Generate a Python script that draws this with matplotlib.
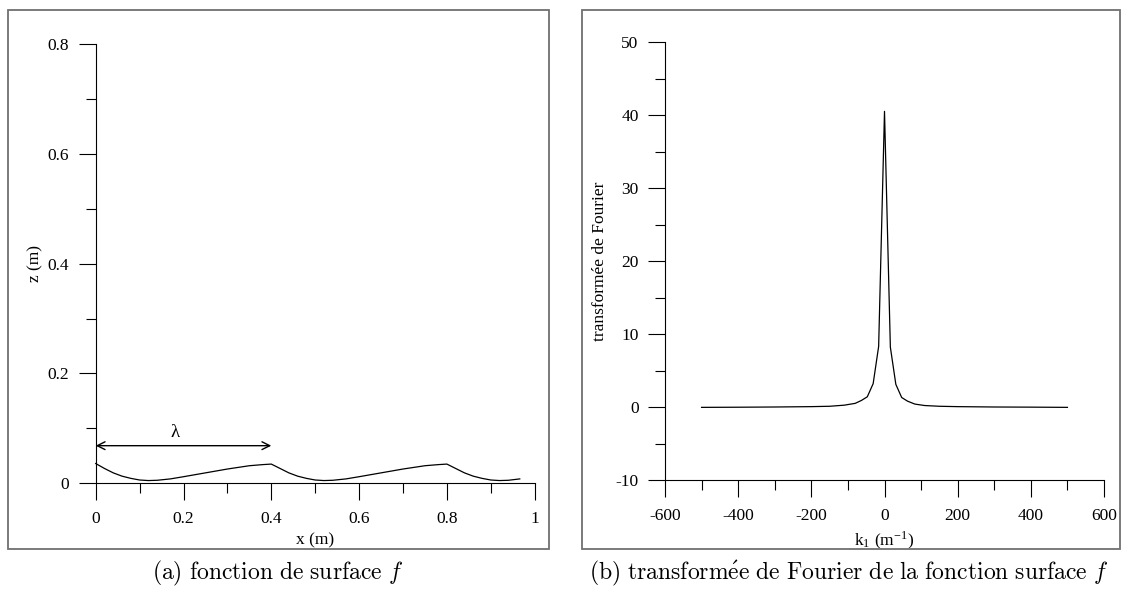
import matplotlib
matplotlib.use("Agg")
import matplotlib.pyplot as plt
from matplotlib.patches import Rectangle
from matplotlib.ticker import MultipleLocator

# ---- data -----------------------------------------------------------
x_surface = [0.00, 0.02, 0.04, 0.06, 0.08, 0.10, 0.12, 0.14, 0.17, 0.20,
             0.25, 0.30, 0.35, 0.38, 0.40,
             0.42, 0.44, 0.46, 0.48, 0.50, 0.52, 0.54, 0.57, 0.60,
             0.65, 0.70, 0.75, 0.78, 0.80,
             0.82, 0.84, 0.86, 0.88, 0.90, 0.92, 0.94, 0.966]
z_surface = [0.036, 0.027, 0.019, 0.013, 0.009, 0.006, 0.005, 0.0055, 0.008, 0.012,
             0.019, 0.026, 0.032, 0.034, 0.035,
             0.027, 0.019, 0.013, 0.009, 0.006, 0.005, 0.0055, 0.008, 0.012,
             0.019, 0.026, 0.032, 0.034, 0.035,
             0.027, 0.019, 0.013, 0.009, 0.006, 0.005, 0.0055, 0.008]

k1 = [-500, -400, -300, -200, -150, -110, -80, -63, -47, -31, -16, 0,
      16, 31, 47, 63, 83, 110, 150, 200, 300, 400, 500]
fourier = [-0.05, -0.03, 0.0, 0.05, 0.1, 0.25, 0.5, 0.9, 1.4, 3.2, 8.3, 40.5,
           8.2, 3.1, 1.3, 0.8, 0.4, 0.2, 0.1, 0.05, 0.0, -0.02, -0.05]

lambda_x = [0.0, 0.4]
lambda_z = 0.0685

x_ticks_a = [0, 0.2, 0.4, 0.6, 0.8, 1]
x_ticklabels_a = ["0", "0.2", "0.4", "0.6", "0.8", "1"]
y_ticks_a = [0, 0.2, 0.4, 0.6, 0.8]
y_ticklabels_a = ["0", "0.2", "0.4", "0.6", "0.8"]

x_ticks_b = [-600, -400, -200, 0, 200, 400, 600]
y_ticks_b = [-10, 0, 10, 20, 30, 40, 50]

caption_a = r"$\mathrm{(a)\ fonction\ de\ surface\ }f$"
caption_b = r"$\mathrm{(b)\ transform\acute{e}e\ de\ Fourier\ de\ la\ fonction\ surface\ }f$"

# ---- style ----------------------------------------------------------
plt.rcParams["font.family"] = ["Liberation Serif", "DejaVu Serif"]
plt.rcParams["mathtext.fontset"] = "stix"
plt.rcParams["axes.unicode_minus"] = False
FS = 12.5

W, H = 1123, 594
fig = plt.figure(figsize=(W / 100, H / 100), dpi=100)


def fx(px):
    return px / W


def fy(py):
    return 1 - py / H


# frames
for (x0, x1) in [(8, 549), (582, 1120)]:
    fig.add_artist(Rectangle((fx(x0), fy(549)), fx(x1) - fx(x0), fy(10) - fy(549),
                             transform=fig.transFigure, fill=False,
                             edgecolor="#707070", linewidth=1.3))

ax1 = fig.add_axes([fx(95.7), fy(483.3), fx(439), 439.3 / H])
ax2 = fig.add_axes([fx(665), fy(480), fx(439), 438 / H])


def style(ax):
    for s in ("top", "right"):
        ax.spines[s].set_visible(False)
    for s in ("left", "bottom"):
        ax.spines[s].set_linewidth(0.8)
    ax.tick_params(which="major", direction="out", length=12, width=0.8,
                   labelsize=FS)
    ax.tick_params(which="minor", direction="out", length=7, width=0.8)
    ax.tick_params(axis="y", which="major", pad=7)
    ax.tick_params(axis="x", which="major", pad=8)
    ax.patch.set_alpha(0)


# ---- panel a --------------------------------------------------------
ax1.plot(x_surface, z_surface, color="black", lw=0.9, clip_on=False)
ax1.set_xlim(0, 1)
ax1.set_ylim(0, 0.8)
style(ax1)
ax1.set_xticks(x_ticks_a)
ax1.set_xticklabels(x_ticklabels_a)
ax1.set_yticks(y_ticks_a)
ax1.set_yticklabels(y_ticklabels_a)
ax1.xaxis.set_minor_locator(MultipleLocator(0.1))
ax1.yaxis.set_minor_locator(MultipleLocator(0.1))
ax1.set_xlabel("x (m)", fontsize=FS)
ax1.set_ylabel("z (m)", fontsize=FS)
ax1.xaxis.set_label_coords(0.5, -0.112)
ax1.yaxis.set_label_coords(-0.12, 0.5)
ax1.annotate("", xy=(lambda_x[0], lambda_z), xytext=(lambda_x[1], lambda_z),
             arrowprops=dict(arrowstyle="<->", lw=1.0, color="black",
                             shrinkA=0, shrinkB=0, mutation_scale=14))
ax1.text(0.18, 0.092, "λ", ha="center", va="center", fontsize=FS + 1)

# ---- panel b --------------------------------------------------------
ax2.plot(k1, fourier, color="black", lw=0.9)
ax2.set_xlim(-600, 600)
ax2.set_ylim(-10, 50)
style(ax2)
ax2.set_xticks(x_ticks_b)
ax2.set_yticks(y_ticks_b)
ax2.xaxis.set_minor_locator(MultipleLocator(100))
ax2.yaxis.set_minor_locator(MultipleLocator(5))
ax2.set_xlabel(r"k$_{\mathregular{1}}$ (m$^{\mathregular{-1}}$)", fontsize=FS)
ax2.set_ylabel("transformée de Fourier", fontsize=FS)
ax2.xaxis.set_label_coords(0.5, -0.112)
ax2.yaxis.set_label_coords(-0.13, 0.5)

# ---- captions -------------------------------------------------------
fig.text(fx(278), fy(573), caption_a, ha="center", va="center",
         fontsize=17, math_fontfamily="cm")
fig.text(fx(849), fy(573), caption_b, ha="center", va="center",
         fontsize=17, math_fontfamily="cm")

fig.savefig("out.png", dpi=100)
